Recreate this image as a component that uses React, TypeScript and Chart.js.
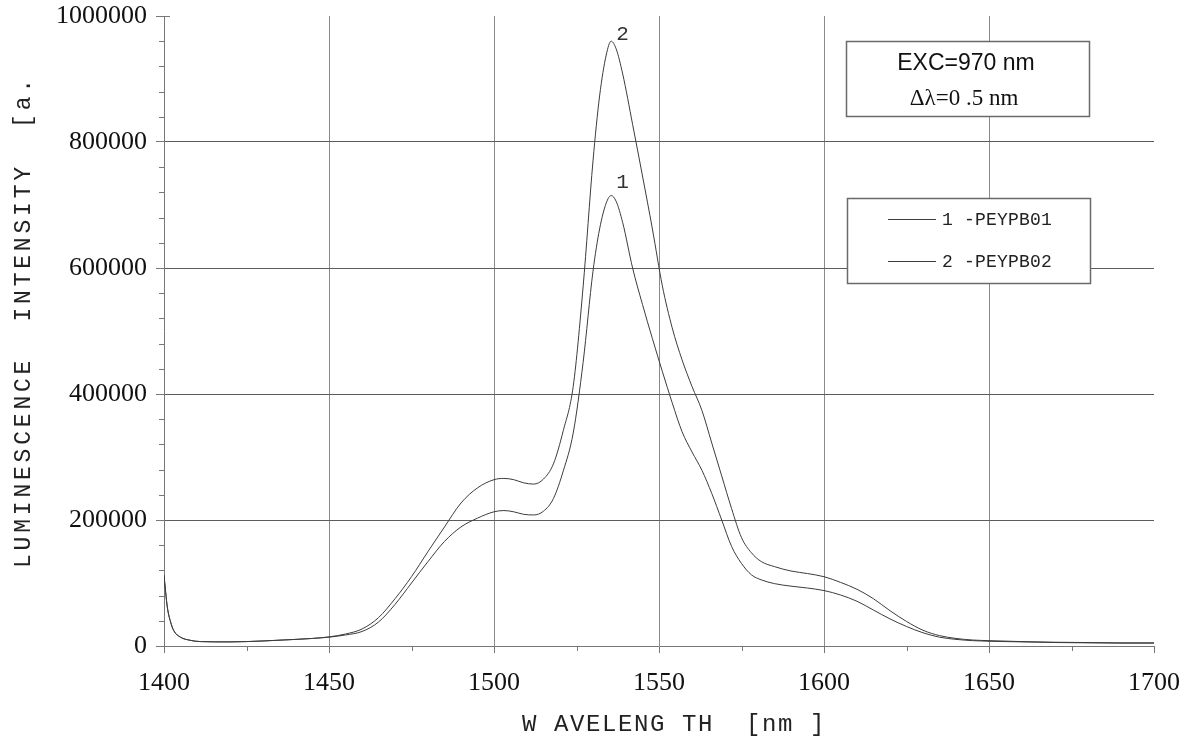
import React, { useEffect, useRef } from "react";
import { Chart, registerables } from "chart.js";

Chart.register(...registerables);

const WAVELENGTHS = [1400, 1401, 1402, 1403, 1405, 1408, 1411, 1420, 1430, 1440, 1445, 1450, 1455, 1460, 1465, 1470, 1475, 1480, 1485, 1490, 1495, 1500, 1503, 1506, 1509, 1512, 1515, 1518, 1521, 1524, 1527, 1530, 1532, 1534, 1535.5, 1537, 1539, 1542, 1545, 1548, 1551, 1554, 1557, 1560, 1563, 1566, 1569, 1572, 1575, 1578, 1581, 1585, 1590, 1595, 1600, 1605, 1610, 1615, 1620, 1625, 1630, 1635, 1640, 1645, 1650, 1660, 1670, 1680, 1690, 1700];

const SAMPLE1 = [112000, 62000, 38000, 24000, 14000, 9000, 7000, 6500, 8000, 10500, 12000, 14000, 17500, 23000, 38000, 66000, 100000, 134000, 166000, 189000, 203000, 213000, 215000, 213000, 209000, 208000, 214000, 234000, 278000, 338000, 450000, 595000, 662000, 703000, 715000, 706000, 672000, 600000, 542000, 488000, 436000, 386000, 340000, 308000, 279000, 242000, 200000, 158000, 131000, 113000, 105000, 99000, 95000, 92000, 88000, 81000, 71000, 57000, 43000, 31000, 21000, 14000, 10500, 8500, 7500, 6500, 5500, 5000, 4500, 4500];

const SAMPLE2 = [112000, 62000, 38000, 24000, 14000, 9000, 7000, 6500, 8000, 10500, 12000, 14500, 19000, 27000, 45000, 75000, 110000, 150000, 189000, 227000, 251000, 264000, 266000, 264000, 259000, 257000, 265000, 289000, 342000, 412000, 570000, 770000, 873000, 938000, 960000, 948000, 908000, 828000, 746000, 662000, 572000, 505000, 454000, 412000, 374000, 322000, 270000, 218000, 172000, 148000, 134000, 126000, 119000, 115000, 110000, 101000, 90000, 75000, 56000, 39000, 25000, 16500, 12000, 9500, 8500, 7000, 6000, 5500, 5000, 5000];

const SERIES_NAMES = ["1 -PEYPB01", "2 -PEYPB02"];
const PEAK_LABELS = ["1", "2"];
const X_TITLE = "W AVELENG TH  [nm ]";
const Y_TITLE = "LUMINESCENCE  INTENSITY  [a.";
const INFO_LINE1 = "EXC=970 nm";
const INFO_LINE2 = "\u0394\u03bb=0 .5 nm";
const X_MIN = 1400, X_MAX = 1700, X_STEP = 50, X_MINOR = 25;
const Y_MIN = 0, Y_MAX = 1000000, Y_STEP = 200000, Y_MINOR = 40000;

const LINE_COLOR = "#3c3c3c";
const AXIS_COLOR = "#777777";

export default function App() {
  const ref = useRef<HTMLCanvasElement | null>(null);

  useEffect(() => {
    const canvas = ref.current;
    if (!canvas) return;

    const toPoints = (vals: number[]) => WAVELENGTHS.map((x, i) => ({ x, y: vals[i] }));

    const overlay = {
      id: "overlay",
      afterDraw(chart: any) {
        const { ctx, chartArea, scales } = chart;
        const xs = scales.x, ys = scales.y;
        ctx.save();
        ctx.strokeStyle = AXIS_COLOR;
        ctx.lineWidth = 1;
        for (let v = X_MIN + X_MINOR; v < X_MAX; v += X_STEP) {
          const px = Math.round(xs.getPixelForValue(v)) + 0.5;
          ctx.beginPath();
          ctx.moveTo(px, chartArea.bottom);
          ctx.lineTo(px, chartArea.bottom + 5);
          ctx.stroke();
        }
        for (let v = Y_MIN + Y_MINOR; v < Y_MAX; v += Y_MINOR) {
          if (v % Y_STEP === 0) continue;
          const py = Math.round(ys.getPixelForValue(v)) + 0.5;
          ctx.beginPath();
          ctx.moveTo(chartArea.left - 5, py);
          ctx.lineTo(chartArea.left, py);
          ctx.stroke();
        }
        {
          const py = Math.round(ys.getPixelForValue(Y_MAX)) + 0.5;
          ctx.beginPath();
          ctx.moveTo(chartArea.left, py);
          ctx.lineTo(chartArea.left + 6, py);
          ctx.stroke();
        }

        // axis titles
        ctx.fillStyle = "#222";
        ctx.font = "24px 'Liberation Mono'";
        (ctx as any).letterSpacing = "1.6px";
        ctx.textAlign = "left";
        ctx.textBaseline = "alphabetic";
        ctx.fillText(X_TITLE, 522, 731);

        ctx.save();
        ctx.translate(30, 568);
        ctx.rotate(-Math.PI / 2);
        ctx.font = "23px 'Liberation Mono'";
        (ctx as any).letterSpacing = "3.8px";
        ctx.fillText(Y_TITLE, 0, 0);
        ctx.restore();

        // peak labels
        (ctx as any).letterSpacing = "0px";
        ctx.font = "21px 'Liberation Mono'";
        ctx.fillStyle = "#333";
        const p1 = SAMPLE1.indexOf(Math.max(...SAMPLE1));
        const p2 = SAMPLE2.indexOf(Math.max(...SAMPLE2));
        ctx.fillText(PEAK_LABELS[0], xs.getPixelForValue(WAVELENGTHS[p1]) + 5, ys.getPixelForValue(SAMPLE1[p1]) - 8);
        ctx.fillText(PEAK_LABELS[1], xs.getPixelForValue(WAVELENGTHS[p2]) + 5, ys.getPixelForValue(SAMPLE2[p2]) - 1);

        // info box
        ctx.fillStyle = "#ffffff";
        ctx.fillRect(846, 41, 243, 75);
        ctx.strokeStyle = "#6a6a6a";
        ctx.lineWidth = 1.5;
        ctx.strokeRect(846.5, 41.5, 243, 75);
        ctx.fillStyle = "#111";
        ctx.textAlign = "center";
        ctx.font = "23px 'Liberation Sans'";
        ctx.fillText(INFO_LINE1, 966, 70);
        ctx.font = "23px 'Liberation Serif'";
        ctx.fillText(INFO_LINE2, 964, 105);

        // legend box
        ctx.fillStyle = "#ffffff";
        ctx.fillRect(847, 198, 243, 85);
        ctx.strokeStyle = "#6a6a6a";
        ctx.lineWidth = 1.5;
        ctx.strokeRect(847.5, 198.5, 243, 85);
        const rows = [219, 261];
        ctx.textAlign = "left";
        ctx.textBaseline = "middle";
        ctx.font = "18px 'Liberation Mono'";
        (ctx as any).letterSpacing = "0.2px";
        rows.forEach((ry, i) => {
          ctx.strokeStyle = LINE_COLOR;
          ctx.lineWidth = 1;
          ctx.beginPath();
          ctx.moveTo(888, ry + 0.5);
          ctx.lineTo(936, ry + 0.5);
          ctx.stroke();
          ctx.fillStyle = "#222";
          ctx.fillText(SERIES_NAMES[i], 942, ry + 1);
        });
        ctx.restore();
      },
    };

    const chart = new Chart(canvas, {
      type: "line",
      data: {
        datasets: [
          { label: SERIES_NAMES[0], data: toPoints(SAMPLE1), borderColor: LINE_COLOR, borderWidth: 1, pointRadius: 0, cubicInterpolationMode: "monotone", fill: false },
          { label: SERIES_NAMES[1], data: toPoints(SAMPLE2), borderColor: LINE_COLOR, borderWidth: 1, pointRadius: 0, cubicInterpolationMode: "monotone", fill: false },
        ],
      },
      options: {
        animation: false,
        responsive: false,
        devicePixelRatio: 1,
        layout: { padding: { top: 16, right: 33, bottom: 0, left: 0 } },
        plugins: { legend: { display: false }, tooltip: { enabled: false } },
        scales: {
          x: {
            type: "linear",
            min: X_MIN,
            max: X_MAX,
            afterFit: (s: any) => { s.height = 92; s.paddingLeft = 0; s.paddingRight = 0; },
            ticks: { stepSize: X_STEP, color: "#111", font: { family: "'Liberation Serif'", size: 26 }, padding: 15, maxRotation: 0, callback: (v: any) => String(v) },
            grid: {
              color: (c: any) => (c.tick && (c.tick.value === X_MAX || c.tick.value === X_MIN) ? "rgba(0,0,0,0)" : "#8a8a8a"),
              tickColor: AXIS_COLOR,
              tickLength: 7,
              lineWidth: 1,
            },
            border: { display: true, color: AXIS_COLOR, width: 1 },
          },
          y: {
            type: "linear",
            min: Y_MIN,
            max: Y_MAX,
            afterFit: (s: any) => { s.width = 164; s.paddingTop = 0; s.paddingBottom = 0; },
            ticks: { stepSize: Y_STEP, color: "#111", font: { family: "'Liberation Serif'", size: 26 }, padding: 9, callback: (v: any) => String(v) },
            grid: {
              color: (c: any) => (c.tick && (c.tick.value === Y_MAX || c.tick.value === Y_MIN) ? "rgba(0,0,0,0)" : "#5c5c5c"),
              tickColor: AXIS_COLOR,
              tickLength: 8,
              lineWidth: 1,
            },
            border: { display: true, color: AXIS_COLOR, width: 1 },
          },
        },
      },
      plugins: [overlay],
    } as any);

    return () => chart.destroy();
  }, []);

  return (
    <div style={{ position: "fixed", left: 0, top: 0, width: 1187, height: 738, background: "#fff" }}>
      <canvas ref={ref} width={1187} height={738} style={{ display: "block", width: 1187, height: 738 }} />
    </div>
  );
}
